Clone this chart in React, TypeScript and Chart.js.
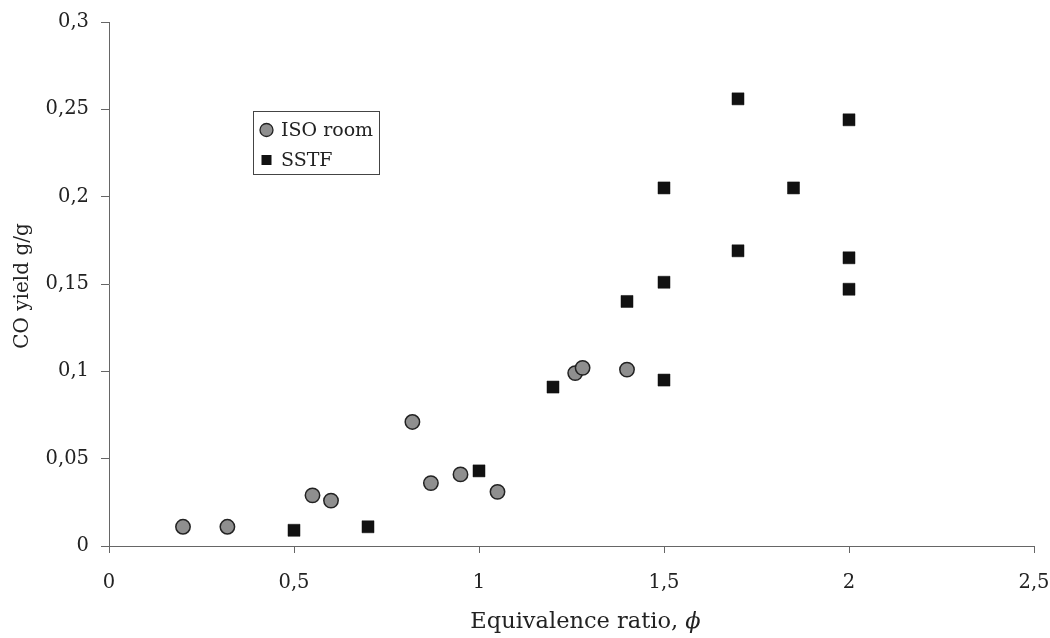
import React, { useEffect, useRef } from "react";
import { Chart, registerables } from "chart.js";

Chart.register(...registerables);

const isoX = [0.2, 0.32, 0.55, 0.6, 0.82, 0.87, 0.95, 1.05, 1.26, 1.28, 1.4];
const isoY = [0.011, 0.011, 0.029, 0.026, 0.071, 0.036, 0.041, 0.031, 0.099, 0.102, 0.101];

const sstfX = [0.5, 0.7, 1.0, 1.2, 1.4, 1.5, 1.5, 1.5, 1.7, 1.7, 1.85, 2.0, 2.0, 2.0];
const sstfY = [0.009, 0.011, 0.043, 0.091, 0.14, 0.095, 0.151, 0.205, 0.169, 0.256, 0.205, 0.147, 0.165, 0.244];

const seriesNames = ["ISO room", "SSTF"];
const xTitle = "Equivalence ratio, ";
const xTitleSymbol = "\u03D5";
const yTitle = "CO yield g/g";

const FONT = "'DejaVu Serif', serif";
const TEXT = "#222222";
const AXIS = "#666666";
const ISO_FILL = "#8f8f8f";
const ISO_EDGE = "#222222";
const SSTF_FILL = "#111111";

const fmt = (v: number) => String(Math.round(v * 1000) / 1000).replace(".", ",");

const annotations = {
  id: "annotations",
  afterDraw(chart: any) {
    const ctx = chart.ctx as CanvasRenderingContext2D;
    ctx.save();
    // x title with italic phi
    ctx.fillStyle = TEXT;
    ctx.textBaseline = "alphabetic";
    const tf = 22.5;
    ctx.font = `${tf}px ${FONT}`;
    const w1 = ctx.measureText(xTitle).width;
    ctx.font = `italic ${tf}px ${FONT}`;
    const w2 = ctx.measureText(xTitleSymbol).width;
    const cx = 585.5;
    const startX = cx - (w1 + w2) / 2;
    ctx.font = `${tf}px ${FONT}`;
    ctx.textAlign = "left";
    ctx.fillText(xTitle, startX, 628);
    ctx.font = `italic ${tf}px ${FONT}`;
    ctx.fillText(xTitleSymbol, startX + w1, 628);

    // y title
    ctx.save();
    ctx.translate(28, 286);
    ctx.rotate(-Math.PI / 2);
    ctx.font = `20px ${FONT}`;
    ctx.textAlign = "center";
    ctx.fillText(yTitle, 0, 0);
    ctx.restore();

    // legend
    const lx = 253, ly = 111, lw = 126, lh = 63;
    ctx.fillStyle = "#ffffff";
    ctx.fillRect(lx, ly, lw, lh);
    ctx.strokeStyle = "#444444";
    ctx.lineWidth = 1;
    ctx.strokeRect(lx + 0.5, ly + 0.5, lw, lh);
    // circle
    ctx.beginPath();
    ctx.arc(266.5, 130, 6.5, 0, Math.PI * 2);
    ctx.fillStyle = ISO_FILL;
    ctx.fill();
    ctx.strokeStyle = ISO_EDGE;
    ctx.lineWidth = 1.3;
    ctx.stroke();
    // square
    ctx.fillStyle = SSTF_FILL;
    ctx.fillRect(261.5, 155, 10, 10);
    ctx.fillStyle = TEXT;
    ctx.font = `19px ${FONT}`;
    ctx.textAlign = "left";
    ctx.fillText(seriesNames[0], 281, 136);
    ctx.fillText(seriesNames[1], 281, 166);
    ctx.restore();
  },
};

export default function App() {
  const ref = useRef<HTMLCanvasElement | null>(null);
  useEffect(() => {
    document.body.style.margin = "0";
    const canvas = ref.current!;
    const chart = new Chart(canvas, {
      type: "scatter",
      data: {
        datasets: [
          {
            label: seriesNames[0],
            data: isoX.map((x, i) => ({ x, y: isoY[i] })),
            pointStyle: "circle",
            pointRadius: 7.2,
            pointBackgroundColor: ISO_FILL,
            pointBorderColor: ISO_EDGE,
            pointBorderWidth: 1.5,
          },
          {
            label: seriesNames[1],
            data: sstfX.map((x, i) => ({ x, y: sstfY[i] })),
            pointStyle: "rect",
            pointRadius: 8.5,
            pointBackgroundColor: SSTF_FILL,
            pointBorderColor: SSTF_FILL,
            pointBorderWidth: 0.5,
          },
        ],
      },
      plugins: [annotations],
      options: {
        animation: false,
        responsive: false,
        maintainAspectRatio: false,
        layout: { padding: { top: 22, right: 16, left: 0, bottom: 0 } },
        plugins: {
          legend: { display: false },
          tooltip: { enabled: false },
          title: { display: false },
        },
        scales: {
          x: {
            type: "linear",
            min: 0,
            max: 2.5,
            ticks: {
              stepSize: 0.5,
              callback: (v: any) => fmt(Number(v)),
              color: TEXT,
              font: { family: FONT, size: 19.5 },
              padding: 18,
              maxRotation: 0,
            },
            grid: {
              display: true,
              drawOnChartArea: false,
              drawTicks: true,
              tickLength: 7,
              color: AXIS,
            },
            border: { display: true, color: AXIS, width: 1 },
            afterFit: (s: any) => {
              s.height = 92;
              s.paddingLeft = 0;
              s.paddingRight = 0;
            },
          },
          y: {
            type: "linear",
            min: 0,
            max: 0.3,
            ticks: {
              stepSize: 0.05,
              callback: (v: any) => fmt(Number(v)),
              color: TEXT,
              font: { family: FONT, size: 19.5 },
              padding: 12,
            },
            grid: {
              display: true,
              drawOnChartArea: false,
              drawTicks: true,
              tickLength: 8,
              color: AXIS,
            },
            border: { display: true, color: AXIS, width: 1 },
            afterFit: (s: any) => {
              s.width = 109;
              s.paddingTop = 0;
              s.paddingBottom = 0;
            },
          },
        },
      },
    } as any);
    return () => chart.destroy();
  }, []);
  return (
    <div style={{ position: "absolute", left: 0, top: 0, width: 1050, height: 638, background: "#fff" }}>
      <canvas ref={ref} width={1050} height={638} style={{ width: 1050, height: 638 }} />
    </div>
  );
}
